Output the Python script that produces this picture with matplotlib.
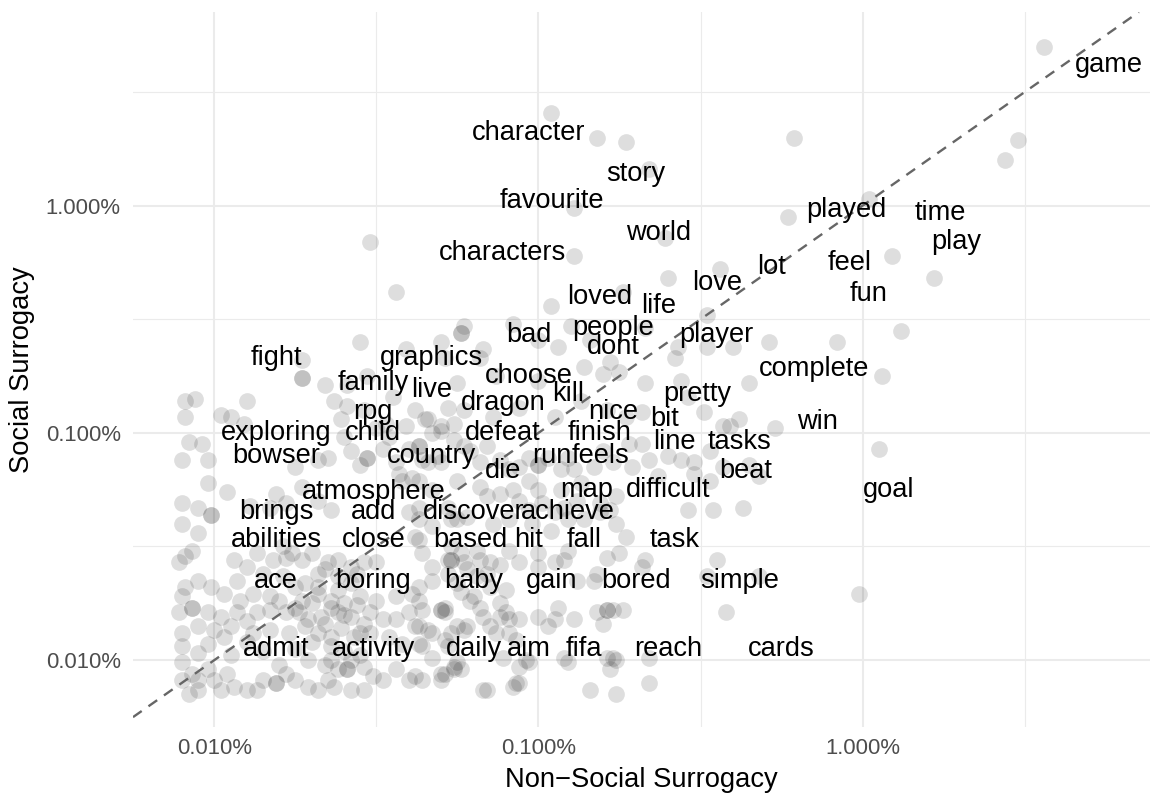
import numpy as np
import matplotlib
matplotlib.use("Agg")
import matplotlib.pyplot as plt
from matplotlib.ticker import FixedLocator, FixedFormatter, NullFormatter

plt.rcParams['font.family'] = ['Liberation Sans', 'DejaVu Sans']

# word labels: log10 of relative frequency in each group of reviews
words = ['game', 'character', 'story', 'favourite', 'world', 'characters', 'played', 'time',
         'play', 'feel', 'lot', 'love', 'fun', 'loved', 'life', 'people', 'bad', 'player',
         'dont', 'fight', 'graphics', 'complete', 'family', 'live', 'choose', 'kill', 'pretty',
         'dragon', 'rpg', 'nice', 'bit', 'win', 'exploring', 'child', 'defeat', 'finish',
         'line', 'tasks', 'bowser', 'country', 'run', 'feels', 'die', 'beat', 'atmosphere',
         'map', 'difficult', 'goal', 'brings', 'add', 'discover', 'achieve', 'abilities',
         'close', 'based', 'hit', 'fall', 'task', 'ace', 'boring', 'baby', 'gain', 'bored',
         'simple', 'admit', 'activity', 'daily', 'aim', 'fifa', 'reach', 'cards']
word_x = [-1.24, -3.03, -2.70, -2.96, -2.63, -3.11, -2.05, -1.76,
          -1.71, -2.04, -2.28, -2.45, -1.98, -2.81, -2.63, -2.77, -3.03, -2.45,
          -2.77, -3.81, -3.33, -2.15, -3.51, -3.33, -3.03, -2.91, -2.51,
          -3.11, -3.51, -2.77, -2.61, -2.14, -3.81, -3.51, -3.11, -2.81,
          -2.58, -2.38, -3.81, -3.33, -2.96, -2.81, -3.11, -2.36, -3.51,
          -2.85, -2.60, -1.92, -3.81, -3.51, -3.20, -2.91, -3.81,
          -3.51, -3.21, -3.03, -2.86, -2.58, -3.81, -3.51, -3.20, -2.96, -2.70,
          -2.38, -3.81, -3.51, -3.20, -3.03, -2.86, -2.60, -2.25]
word_y = [-1.38, -1.68, -1.86, -1.98, -2.12, -2.21, -2.02, -2.03,
          -2.16, -2.25, -2.27, -2.34, -2.39, -2.40, -2.44, -2.54, -2.57, -2.57,
          -2.62, -2.67, -2.67, -2.72, -2.78, -2.81, -2.75, -2.83, -2.83,
          -2.87, -2.91, -2.91, -2.94, -2.95, -3.00, -3.00, -3.00, -3.00,
          -3.04, -3.04, -3.10, -3.10, -3.10, -3.10, -3.17, -3.17, -3.26,
          -3.25, -3.25, -3.25, -3.35, -3.35, -3.35, -3.35, -3.47,
          -3.47, -3.47, -3.47, -3.47, -3.47, -3.65, -3.65, -3.65, -3.65, -3.65,
          -3.65, -3.95, -3.95, -3.95, -3.95, -3.95, -3.95, -3.95]

# all words (log10 non-social, log10 social), frequent words first
words_top = [(-1.44, -1.30), (-2.21, -1.70), (-1.52, -1.71), (-1.56, -1.80), (-1.98, -1.97),
             (-2.23, -2.05), (-1.91, -2.22), (-1.78, -2.32), (-2.29, -2.60), (-2.08, -2.60),
             (-1.88, -2.55), (-1.94, -2.75), (-2.27, -2.98), (-1.95, -3.07), (-2.35, -3.14),
             (-2.32, -3.19), (-2.32, -3.63), (-2.01, -3.71), (-2.49, -2.91), (-2.43, -2.97),
             (-2.54, -2.84), (-2.38, -2.94), (-2.47, -3.21), (-2.43, -3.15),
             (-2.96, -1.59), (-2.82, -1.70), (-2.73, -1.72), (-2.66, -1.84), (-2.89, -2.01),
             (-2.61, -2.14), (-2.89, -2.22), (-2.60, -2.32), (-2.44, -2.28), (-2.74, -2.38),
             (-2.96, -2.44), (-2.48, -2.48), (-3.23, -2.53), (-3.24, -2.56), (-3.24, -2.56),
             (-3.30, -2.60), (-3.08, -2.52), (-3.17, -2.63), (-3.18, -2.67), (-2.94, -2.62),
             (-3.00, -2.59), (-2.90, -2.53), (-2.84, -2.59), (-2.86, -2.71), (-2.78, -2.69),
             (-2.75, -2.73), (-2.80, -2.74), (-2.67, -2.78), (-2.58, -2.67), (-2.57, -2.62),
             (-2.48, -2.62), (-2.40, -2.62), (-2.35, -2.78), (-2.56, -2.77), (-2.67, -2.54),
             (-3.00, -2.77), (-3.13, -2.75), (-3.25, -2.78),
             (-3.52, -2.16), (-3.44, -2.38), (-3.55, -2.60), (-3.73, -2.68), (-3.73, -2.76),
             (-3.73, -2.76), (-3.66, -2.79), (-3.53, -2.75), (-3.41, -2.63), (-3.29, -2.67)]

words_mid = [(-4.09, -2.86), (-4.06, -2.85), (-4.09, -2.93), (-3.90, -2.86), (-4.08, -3.04),
             (-4.04, -3.05), (-4.10, -3.12), (-4.02, -3.12), (-3.98, -2.92), (-3.95, -2.93),
             (-3.91, -2.96), (-3.75, -3.15), (-3.68, -3.12), (-3.65, -3.11), (-3.63, -2.86),
             (-3.60, -3.02), (-3.53, -3.11), (-3.53, -3.11), (-3.43, -3.18), (-3.39, -3.20),
             (-3.34, -3.13), (-3.30, -2.99), (-3.23, -2.90), (-3.35, -2.94), (-3.47, -2.96),
             (-3.59, -2.79), (-3.59, -2.88), (-3.61, -2.94), (-3.54, -2.90), (-3.45, -2.84),
             (-3.38, -2.90), (-3.26, -3.03), (-3.31, -3.10), (-3.40, -3.07), (-3.46, -3.02),
             (-3.58, -3.08), (-3.55, -3.14), (-3.48, -3.07), (-3.44, -3.13), (-3.50, -2.98),
             (-3.41, -2.97),
             (-3.34, -2.94), (-3.30, -2.97), (-3.23, -3.06), (-3.21, -3.08), (-3.16, -3.06),
             (-3.12, -3.12), (-3.18, -3.13), (-3.09, -3.16), (-3.06, -3.15), (-3.03, -3.11),
             (-3.00, -3.14), (-3.00, -3.14), (-2.97, -3.11), (-2.93, -3.16), (-2.91, -3.11),
             (-2.89, -3.16), (-2.87, -3.22), (-2.83, -3.15), (-2.80, -3.08), (-2.77, -3.13),
             (-2.72, -3.05), (-2.71, -3.15), (-2.66, -3.12), (-2.60, -3.10), (-2.56, -3.12),
             (-2.52, -3.13), (-2.47, -3.08), (-2.41, -2.97), (-2.68, -3.05), (-2.73, -2.93),
             (-2.68, -2.91), (-2.79, -2.90), (-2.87, -2.86), (-2.95, -2.93), (-3.06, -2.89),
             (-3.14, -2.93), (-3.26, -2.96), (-3.28, -2.89), (-3.33, -3.00), (-3.37, -3.06),
             (-3.37, -3.06), (-3.36, -3.12), (-3.30, -3.13),
             (-4.02, -3.22), (-4.10, -3.31), (-4.01, -3.36), (-4.01, -3.36), (-4.05, -3.33),
             (-3.96, -3.26), (-4.10, -3.40), (-4.05, -3.44), (-4.09, -3.54), (-4.11, -3.57),
             (-4.07, -3.52), (-3.89, -3.32), (-3.83, -3.33), (-3.78, -3.31), (-3.68, -3.30),
             (-3.64, -3.34), (-3.73, -3.24), (-3.81, -3.27), (-3.42, -3.21), (-3.40, -3.35),
             (-3.33, -3.25), (-3.28, -3.33), (-3.25, -3.38), (-3.38, -3.46), (-3.36, -3.53),
             (-3.28, -3.56), (-3.27, -3.50),
             (-3.25, -3.21), (-3.18, -3.24), (-3.16, -3.28), (-3.12, -3.27), (-3.08, -3.25),
             (-3.03, -3.21), (-3.00, -3.25), (-2.93, -3.25), (-3.06, -3.30), (-3.03, -3.34),
             (-2.99, -3.31), (-2.95, -3.35), (-2.92, -3.33), (-2.88, -3.30), (-2.81, -3.31),
             (-2.76, -3.28), (-2.78, -3.34), (-2.54, -3.34), (-2.46, -3.34), (-2.37, -3.33),
             (-2.63, -3.19), (-2.52, -3.18), (-3.37, -3.21), (-3.37, -3.33), (-3.37, -3.38),
             (-3.33, -3.41), (-3.27, -3.38), (-3.22, -3.37), (-3.14, -3.40), (-3.09, -3.38),
             (-3.02, -3.40), (-2.96, -3.43), (-2.91, -3.38), (-2.86, -3.38), (-2.81, -3.35),
             (-2.76, -3.40), (-2.73, -3.46), (-3.37, -3.47)]

words_low = [(-3.94, -3.56), (-3.90, -3.59), (-3.87, -3.53), (-3.82, -3.56), (-3.78, -3.55),
             (-3.73, -3.56), (-3.68, -3.62), (-3.65, -3.57), (-3.62, -3.56), (-3.58, -3.59),
             (-3.54, -3.57), (-3.50, -3.57), (-4.05, -3.65), (-4.09, -3.68), (-4.10, -3.72),
             (-4.01, -3.68), (-3.97, -3.71), (-3.93, -3.65), (-3.92, -3.74), (-3.88, -3.71),
             (-3.83, -3.72), (-3.80, -3.74), (-3.75, -3.68), (-3.73, -3.74), (-3.68, -3.71),
             (-3.64, -3.74), (-3.60, -3.75), (-3.55, -3.72), (-3.50, -3.74), (-3.44, -3.72),
             (-3.39, -3.71), (-3.36, -3.78), (-3.29, -3.79), (-4.07, -3.77), (-4.07, -3.77),
             (-4.11, -3.79), (-4.02, -3.79), (-3.98, -3.81), (-3.93, -3.79), (-3.87, -3.79),
             (-3.83, -3.78), (-3.78, -3.79), (-3.74, -3.79), (-3.71, -3.82), (-3.67, -3.81),
             (-3.62, -3.79), (-3.58, -3.81), (-3.54, -3.84), (-3.52, -3.79), (-3.48, -3.82),
             (-3.44, -3.82), (-3.40, -3.79), (-3.38, -3.85), (-3.34, -3.87), (-3.25, -3.85),
             (-4.10, -3.88), (-4.05, -3.85), (-4.00, -3.87), (-3.95, -3.85), (-3.88, -3.88),
             (-3.83, -3.87), (-3.77, -3.88), (-3.72, -3.85), (-3.68, -3.88), (-3.64, -3.90),
             (-3.55, -3.88), (-3.52, -3.88), (-3.46, -3.90), (-3.42, -3.93), (-3.36, -3.94),
             (-3.29, -3.91), (-4.10, -3.94), (-4.05, -3.97), (-4.02, -3.93), (-4.10, -4.01),
             (-4.07, -4.06), (-4.10, -4.09), (-4.05, -4.09), (-4.02, -4.04), (-4.00, -4.09),
             (-3.96, -4.06), (-3.94, -4.12), (-3.98, -4.13), (-4.05, -4.13), (-4.08, -4.15),
             (-3.90, -4.13), (-3.87, -4.13), (-3.85, -4.09), (-3.81, -4.10), (-3.81, -4.10),
             (-3.78, -4.06), (-3.75, -4.09), (-3.71, -4.12), (-3.68, -4.13), (-3.65, -4.09),
             (-3.62, -4.04), (-3.59, -4.04), (-3.59, -4.04), (-3.58, -4.00), (-3.64, -4.00),
             (-3.54, -4.03), (-3.51, -4.07), (-3.58, -4.13), (-3.63, -4.12), (-3.54, -4.13),
             (-3.48, -4.09), (-3.44, -4.04), (-3.40, -4.09), (-3.38, -4.07), (-3.30, -4.06),
             (-3.26, -4.04), (-3.28, -3.94), (-3.64, -3.94),
             (-3.79, -3.50), (-3.76, -3.53), (-3.70, -3.53), (-3.66, -3.60), (-3.62, -3.63),
             (-3.58, -3.66), (-3.72, -3.66), (-3.79, -3.63), (-3.85, -3.62), (-3.68, -3.68),
             (-3.62, -3.69), (-3.56, -3.62), (-3.75, -3.77), (-3.70, -3.75), (-3.64, -3.77),
             (-3.60, -3.80), (-3.56, -3.76), (-3.66, -3.84), (-3.61, -3.86), (-3.57, -3.90),
             (-3.70, -3.92), (-3.75, -3.95), (-3.60, -3.96), (-3.55, -3.98), (-3.66, -4.02),
             (-3.71, -4.00), (-3.80, -4.02), (-3.85, -3.96), (-3.90, -3.92), (-3.95, -3.98),
             (-3.97, -3.90), (-3.90, -3.83),
             (-3.27, -3.56), (-3.27, -3.56), (-3.24, -3.53), (-3.18, -3.56), (-3.15, -3.57),
             (-3.09, -3.52), (-3.06, -3.57), (-3.00, -3.59), (-2.95, -3.57), (-2.92, -3.56),
             (-2.91, -3.52), (-2.82, -3.62), (-2.79, -3.55), (-2.75, -3.53), (-2.68, -3.59),
             (-2.45, -3.56), (-2.48, -3.63), (-2.42, -3.79), (-3.29, -3.77), (-3.21, -3.74),
             (-3.18, -3.77), (-3.12, -3.75), (-3.10, -3.69), (-3.17, -3.81), (-3.12, -3.81),
             (-3.09, -3.82), (-3.00, -3.81), (-2.94, -3.77), (-2.97, -3.85), (-2.89, -3.82),
             (-2.82, -3.79), (-2.79, -3.78), (-2.79, -3.78), (-2.77, -3.78), (-2.80, -3.84),
             (-3.27, -3.88), (-3.23, -3.87), (-3.13, -3.88), (-3.07, -3.91), (-3.03, -4.01),
             (-3.06, -4.03), (-2.92, -3.99), (-2.91, -4.01), (-2.77, -3.99), (-2.76, -4.00),
             (-2.66, -3.99), (-3.24, -4.04), (-3.29, -4.06), (-3.30, -4.09), (-2.78, -4.04),
             (-2.66, -4.10), (-3.17, -4.13), (-3.08, -4.12), (-3.06, -4.10), (-2.84, -4.13),
             (-2.76, -4.15), (-3.26, -4.03),
             (-3.22, -3.60), (-3.19, -3.63), (-3.25, -3.66), (-3.15, -3.68), (-3.24, -3.70),
             (-3.16, -3.62), (-3.12, -3.58), (-3.28, -3.62),
             (-3.23, -3.57), (-3.19, -3.52), (-3.33, -3.59), (-3.00, -3.53), (-2.67, -3.56),
             (-3.37, -3.68), (-3.33, -3.65), (-3.20, -3.72), (-2.88, -3.65), (-2.83, -3.65),
             (-3.37, -3.74), (-3.30, -3.78), (-3.30, -3.78), (-3.10, -3.79), (-3.06, -3.82),
             (-2.95, -3.82), (-2.74, -3.78), (-3.37, -3.85), (-3.33, -3.88), (-3.22, -3.85),
             (-3.15, -3.85), (-3.09, -3.88), (-3.37, -3.93), (-3.33, -3.99), (-3.25, -4.01),
             (-3.11, -3.99), (-3.04, -4.00), (-2.79, -3.99), (-3.36, -4.09), (-3.16, -4.13),
             (-3.07, -4.10)]

W, H = 1157, 796
fig = plt.figure(figsize=(W / 100, H / 100), dpi=100)
ax = fig.add_axes([133 / W, (H - 727) / H, (1150 - 133) / W, (727 - 12) / H])

pts = np.array(words_top + words_mid + words_low)
ax.scatter(10 ** pts[:, 0], 10 ** pts[:, 1], s=145, color='black', alpha=0.13,
           linewidths=0, zorder=2)

ax.set_xscale('log')
ax.set_yscale('log')
ax.set_xlim(10 ** -4.2515, 10 ** -1.1127)
ax.set_ylim(10 ** -4.295, 10 ** -1.147)

# y = x reference line
ax.axline((1e-4, 1e-4), (1e-2, 1e-2), color='#666666', lw=1.7, ls=(0, (4.5, 3.5)), zorder=3)

for w, x, y in zip(words, word_x, word_y):
    ax.text(10 ** x, 10 ** y, w, ha='center', va='center', fontsize=19.6, color='black', zorder=4)

major = [1e-4, 1e-3, 1e-2]
minor = [10 ** -3.5, 10 ** -2.5, 10 ** -1.5]
tick_labels = ['0.010%', '0.100%', '1.000%']
for axis in (ax.xaxis, ax.yaxis):
    axis.set_major_locator(FixedLocator(major))
    axis.set_major_formatter(FixedFormatter(tick_labels))
    axis.set_minor_locator(FixedLocator(minor))
    axis.set_minor_formatter(NullFormatter())

ax.grid(True, which='major', color='#EBEBEB', lw=1.5)
ax.grid(True, which='minor', color='#EBEBEB', lw=0.8)
ax.set_axisbelow(True)
for s in ax.spines.values():
    s.set_visible(False)
ax.tick_params(which='both', length=0)
ax.tick_params(axis='x', pad=8, labelsize=15.9, labelcolor='#4D4D4D')
ax.tick_params(axis='y', pad=8.8, labelsize=15.9, labelcolor='#4D4D4D')

ax.set_xlabel('Non\u2212Social Surrogacy', fontsize=19.7, labelpad=6)
ax.set_ylabel('Social Surrogacy', fontsize=19.7, labelpad=8)

fig.savefig('out.png', dpi=100)
